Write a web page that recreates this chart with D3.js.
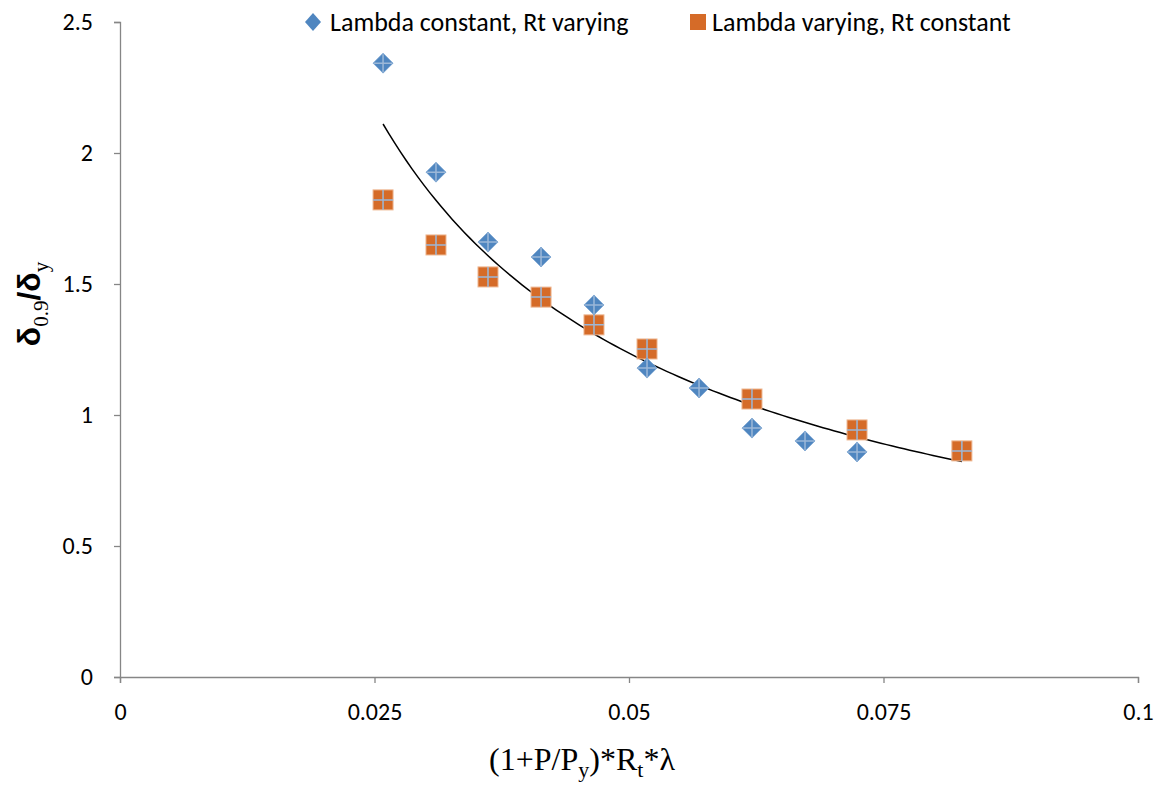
<!DOCTYPE html>
<html>
<head>
<meta charset="utf-8">
<script src="https://cdn.jsdelivr.net/npm/d3@7"></script>
<style>
  html, body { margin: 0; padding: 0; background: #fff; }
  svg { display: block; }
  .tick text { font-family: Carlito, "Liberation Sans Narrow", "Liberation Sans", sans-serif; font-size: 24px; fill: #000; }
</style>
</head>
<body>
<svg id="chart" width="1166" height="787"></svg>
<script>
// Normalised response vs. combined parameter
const xLambdaConst = [0.02584, 0.03104, 0.03615, 0.04136, 0.04656, 0.05177, 0.05688, 0.06208, 0.06729, 0.0724];
const yLambdaConst = [2.343, 1.927, 1.660, 1.603, 1.420, 1.179, 1.103, 0.950, 0.901, 0.859];
const xLambdaVar = [0.02584, 0.03104, 0.03615, 0.04136, 0.04656, 0.05177, 0.06208, 0.0724, 0.0827];
const yLambdaVar = [1.821, 1.649, 1.527, 1.450, 1.344, 1.252, 1.061, 0.943, 0.863];
const xTicks = [0, 0.025, 0.05, 0.075, 0.1];
const yTicks = [0, 0.5, 1, 1.5, 2, 2.5];
const seriesNames = ["Lambda constant, Rt varying", "Lambda varying, Rt constant"];

const svg = d3.select("#chart");
const plotLeft = 120, plotRight = 1138, plotTop = 22, plotBottom = 677;

const x = d3.scaleLinear().domain([0, 0.1]).range([plotLeft, plotRight]);
const y = d3.scaleLinear().domain([0, 2.5]).range([plotBottom, plotTop]);

const axisColor = "#868686";
const blue = "#4F86C0", orange = "#D56B28", crossColor = "#9CB8D8";

// axes
const gx = svg.append("g").attr("transform", `translate(0,${plotBottom})`)
  .call(d3.axisBottom(x).tickValues(xTicks).tickFormat(d => String(d)).tickSizeOuter(0).tickSize(6).tickPadding(20));
const gy = svg.append("g").attr("transform", `translate(${plotLeft},0)`)
  .call(d3.axisLeft(y).tickValues(yTicks).tickFormat(d => String(d)).tickSizeOuter(0).tickSize(6).tickPadding(21));
[gx, gy].forEach(g => {
  g.select(".domain").attr("stroke", axisColor).attr("stroke-width", 1.3);
  g.selectAll(".tick line").attr("stroke", axisColor).attr("stroke-width", 1.3);
});

// power trendline fitted over both series (least squares in log-log space)
const allX = xLambdaConst.concat(xLambdaVar);
const allY = yLambdaConst.concat(yLambdaVar);
const lx = allX.map(Math.log), ly = allY.map(Math.log);
const mx = d3.mean(lx), my = d3.mean(ly);
const fitB = d3.sum(lx.map((v, i) => (v - mx) * (ly[i] - my))) / d3.sum(lx.map(v => (v - mx) ** 2));
const fitA = Math.exp(my - fitB * mx);
const [fitX0, fitX1] = d3.extent(allX);
const fitPts = d3.range(0, 101).map(i => {
  const xv = fitX0 + (fitX1 - fitX0) * i / 100;
  return [xv, fitA * Math.pow(xv, fitB)];
});
svg.append("path")
  .attr("d", d3.line().x(d => x(d[0])).y(d => y(d[1]))(fitPts))
  .attr("fill", "none").attr("stroke", "#000").attr("stroke-width", 1.5);

// markers
const half = 10;
function diamond(g, cx, cy) {
  g.append("path")
    .attr("d", `M${cx},${cy - half}L${cx + half},${cy}L${cx},${cy + half}L${cx - half},${cy}Z`)
    .attr("fill", blue).attr("stroke", "#7FA7D3").attr("stroke-width", 0.8);
  g.append("path")
    .attr("d", `M${cx - half + 1},${cy}H${cx + half - 1}M${cx},${cy - half + 1}V${cy + half - 1}`)
    .attr("stroke", crossColor).attr("stroke-width", 1.5);
}
function square(g, cx, cy) {
  g.append("rect")
    .attr("x", cx - half).attr("y", cy - half).attr("width", 2 * half).attr("height", 2 * half)
    .attr("fill", orange).attr("stroke", "#EDB58F").attr("stroke-width", 1);
  g.append("path")
    .attr("d", `M${cx - half},${cy}H${cx + half}M${cx},${cy - half}V${cy + half}`)
    .attr("stroke", crossColor).attr("stroke-width", 1.5);
}

const gOrange = svg.append("g");
xLambdaVar.forEach((v, i) => square(gOrange, x(v), y(yLambdaVar[i])));
const gBlue = svg.append("g");
xLambdaConst.forEach((v, i) => diamond(gBlue, x(v), y(yLambdaConst[i])));

// legend
const legFont = 'Carlito, "Liberation Sans Narrow", "Liberation Sans", sans-serif';
const lg = svg.append("g");
lg.append("path").attr("d", "M313,13L321,22L313,31L305,22Z").attr("fill", blue);
lg.append("text").attr("x", 330).attr("y", 31).attr("font-family", legFont).attr("font-size", 26).text(seriesNames[0]);
lg.append("rect").attr("x", 690).attr("y", 14).attr("width", 16).attr("height", 16).attr("fill", orange);
lg.append("text").attr("x", 712).attr("y", 31).attr("font-family", legFont).attr("font-size", 26).text(seriesNames[1]);

// x-axis title
const xt = svg.append("text").attr("x", 582).attr("y", 770).attr("text-anchor", "middle")
  .attr("font-family", '"Liberation Serif", "Times New Roman", serif').attr("font-size", 32);
xt.append("tspan").text("(1+P/P");
xt.append("tspan").attr("font-size", 22).attr("dy", 7).text("y");
xt.append("tspan").attr("dy", -7).text(")*R");
xt.append("tspan").attr("font-size", 22).attr("dy", 7).text("t");
xt.append("tspan").attr("dy", -7).text("*λ");

// y-axis title
const yt = svg.append("text").attr("transform", "translate(40,304) rotate(-90)").attr("text-anchor", "middle")
  .attr("font-size", 32);
yt.append("tspan").attr("font-family", '"Liberation Sans", Arial, sans-serif').attr("font-weight", "bold").text("δ");
yt.append("tspan").attr("font-family", '"Liberation Serif", serif').attr("font-size", 21).attr("dy", 8).text("0.9");
yt.append("tspan").attr("font-family", '"Liberation Sans", Arial, sans-serif').attr("font-weight", "bold").attr("dy", -8).text("/δ");
yt.append("tspan").attr("font-family", '"Liberation Serif", serif').attr("font-size", 21).attr("dy", 8).text("y");
</script>
</body>
</html>
